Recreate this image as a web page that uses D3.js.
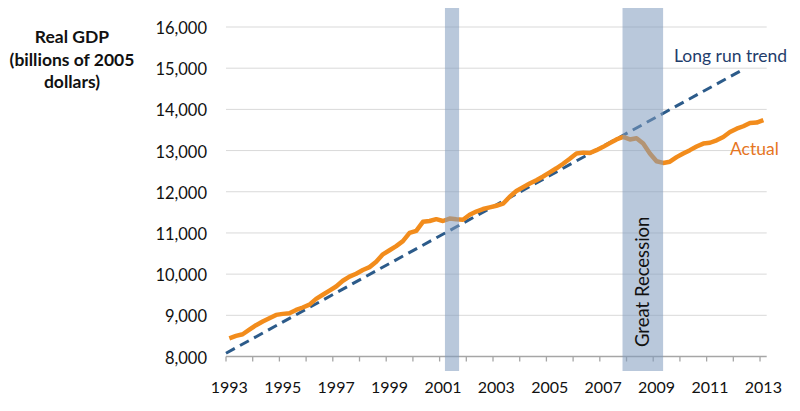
<!DOCTYPE html>
<html>
<head>
<meta charset="utf-8">
<script src="https://cdn.jsdelivr.net/npm/d3@7"></script>
<style>
  html, body { margin: 0; padding: 0; background: #fff; }
  svg { display: block; font-family: Lato, "Open Sans", sans-serif; }
</style>
</head>
<body>
<svg id="chart" width="800" height="411"></svg>
<script>
// ---- Data ----
// Quarterly real GDP, billions of 2005 dollars, 1993Q1 .. 2013Q1
const startYear = 1993;
const actualGDP = [
  8442, 8500, 8540, 8650, 8760, 8850, 8930, 9010,   // 1993-1994
  9035, 9050, 9130, 9190, 9260, 9400, 9500, 9600,   // 1995-1996
  9700, 9840, 9940, 10010, 10100, 10170, 10300, 10480, // 1997-1998
  10580, 10680, 10800, 11000, 11050, 11270, 11290, 11335, // 1999-2000
  11290, 11350, 11330, 11320, 11440, 11520, 11580, 11620, // 2001-2002
  11660, 11710, 11880, 12020, 12110, 12200, 12280, 12370, // 2003-2004
  12470, 12570, 12680, 12800, 12930, 12950, 12940, 13010, // 2005-2006
  13090, 13180, 13270, 13330, 13270, 13300, 13170, 12930, // 2007-2008
  12740, 12700, 12730, 12840, 12930, 13010, 13100, 13170, // 2009-2010
  13190, 13250, 13330, 13450, 13530, 13590, 13670, 13680, // 2011-2012
  13740                                                  // 2013
];
const trendYears = [1993.0, 2012.37];
const trendValues = [8080, 14970];
const recessions = [
  { label: "", start: 2001.2, end: 2001.73 },
  { label: "Great Recession", start: 2007.85, end: 2009.37 }
];
const yTicks = [8000, 9000, 10000, 11000, 12000, 13000, 14000, 15000, 16000];
const xTickYears = d3.range(1993, 2014);
const xLabelYears = [1993, 1995, 1997, 1999, 2001, 2003, 2005, 2007, 2009, 2011, 2013];
const yTitle = ["Real GDP", "(billions of 2005", "dollars)"];

// ---- Layout ----
const plotLeft = 226, plotRight = 766.7, plotTop = 27, plotBottom = 356.5;
const svg = d3.select("#chart");

const x = d3.scaleLinear().domain([1993, 2013.25]).range([plotLeft, plotRight]);
const y = d3.scaleLinear().domain([8000, 16000]).range([plotBottom, plotTop]);

// gridlines
svg.append("g").selectAll("line").data(yTicks.filter(d => d > 8000)).join("line")
  .attr("x1", plotLeft).attr("x2", plotRight)
  .attr("y1", d => y(d)).attr("y2", d => y(d))
  .attr("stroke", "#d9d9d9").attr("stroke-width", 1);

// y labels
svg.append("g").selectAll("text").data(yTicks).join("text")
  .attr("x", 207).attr("y", d => y(d) + 7)
  .attr("text-anchor", "end")
  .attr("font-size", 16.5).attr("fill", "#111")
  .text(d => d3.format(",")(d));

// y title
svg.append("g").selectAll("text").data(yTitle).join("text")
  .attr("x", 72).attr("y", (d, i) => 43 + i * 22.5)
  .attr("text-anchor", "middle")
  .attr("font-size", 17.5).attr("font-weight", "bold").attr("fill", "#111")
  .text(d => d);

// x axis
const xAxis = svg.append("g");
xAxis.append("line")
  .attr("x1", plotLeft).attr("x2", plotRight).attr("y1", plotBottom).attr("y2", plotBottom)
  .attr("stroke", "#a6a6a6").attr("stroke-width", 1.3);
xAxis.selectAll("line.tick").data(xTickYears).join("line").attr("class", "tick")
  .attr("x1", d => x(d)).attr("x2", d => x(d))
  .attr("y1", plotBottom).attr("y2", plotBottom + 5)
  .attr("stroke", "#a6a6a6").attr("stroke-width", 1.3);
xAxis.selectAll("text").data(xLabelYears).join("text")
  .attr("x", d => x(d + 0.125)).attr("y", 393)
  .attr("text-anchor", "middle")
  .attr("font-size", 16).attr("fill", "#111")
  .text(d => d);

// trend line
const trendData = trendYears.map((t, i) => ({ t, v: trendValues[i] }));
svg.append("path").datum(trendData)
  .attr("d", d3.line().x(d => x(d.t)).y(d => y(d.v)))
  .attr("fill", "none").attr("stroke", "#2c5b8a")
  .attr("stroke-width", 3).attr("stroke-dasharray", "10,6");

// actual line
const actualData = actualGDP.map((v, i) => ({ t: startYear + (i + 0.5) / 4, v }));
svg.append("path").datum(actualData)
  .attr("d", d3.line().x(d => x(d.t)).y(d => y(d.v)))
  .attr("fill", "none").attr("stroke", "#f28c1c")
  .attr("stroke-width", 4.5).attr("stroke-linejoin", "round");

// recession bars (on top, translucent)
svg.append("g").selectAll("rect").data(recessions).join("rect")
  .attr("x", d => x(d.start)).attr("width", d => x(d.end) - x(d.start))
  .attr("y", 8).attr("height", 371 - 8)
  .attr("fill", "#7f9bbe").attr("opacity", 0.55);

// recession label
recessions.filter(d => d.label).forEach(d => {
  const cx = (x(d.start) + x(d.end)) / 2;
  svg.append("text")
    .attr("transform", `translate(${cx + 6.5},347) rotate(-90)`)
    .attr("font-size", 18.5).attr("fill", "#111")
    .text(d.label);
});

// series labels
svg.append("text").attr("x", 674).attr("y", 62)
  .attr("font-size", 17.5).attr("fill", "#1f3d6b").text("Long run trend");
svg.append("text").attr("x", 730).attr("y", 155)
  .attr("font-size", 17.5).attr("fill", "#e6761f").text("Actual");
</script>
</body>
</html>
